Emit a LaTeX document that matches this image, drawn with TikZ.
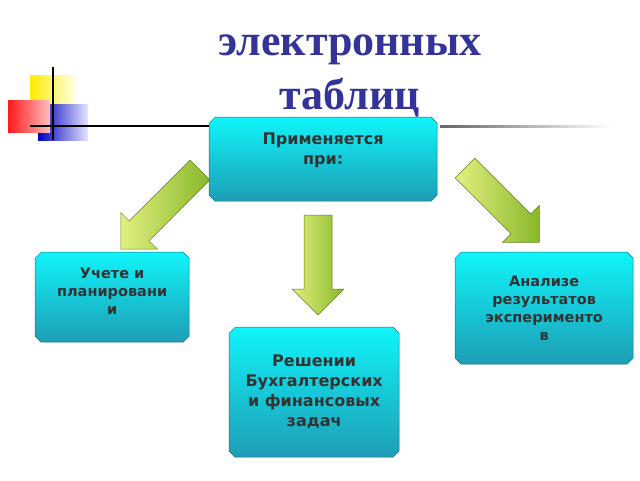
\documentclass[tikz,border=0pt]{standalone}
\usepackage{fontspec}
\setmainfont{Liberation Serif}
\newfontfamily\boxfont{DejaVu Sans}
\usetikzlibrary{shapes.misc}
\definecolor{ttl}{HTML}{333399}
\definecolor{cyA}{HTML}{10F4FA}
\definecolor{cyB}{HTML}{1E9DB5}
\definecolor{grA}{HTML}{E0F080}
\definecolor{grB}{HTML}{8AB82A}
\tikzset{
  box/.style={chamfered rectangle, chamfered rectangle xsep=3pt, chamfered rectangle ysep=3pt,
    top color=cyA, bottom color=cyB, draw=cyB!70!black, line width=0.4pt,
    font=\boxfont\bfseries\fontsize{16pt}{20pt}\selectfont, text=black!80,
    align=center, inner sep=3pt},
  garrow/.style={draw=grB!70!black, line width=0.5pt, left color=grA, right color=grB}
}
\newcommand{\greenarrow}[4]{% x,y,angle,length
  \draw[garrow, shift={(#1,#2)}, rotate=#3]
    (0,-14) -- ({#4-26},-14) -- ({#4-26},-26) -- (#4,0) -- ({#4-26},26) -- ({#4-26},14) -- (0,14) -- cycle;}
\begin{document}
\begin{tikzpicture}[x=1pt,y=-1pt]
\useasboundingbox (0,0) rectangle (640,480);
% decor
\shade[left color=yellow!85!orange, right color=yellow!10] (30,75) rectangle (76,118);
\shade[left color=blue!75!black, right color=blue!10] (38,104) rectangle (88,140);
\shade[left color=red!90, right color=red!25] (8,100) rectangle (50,132);
\draw[line width=1.5pt] (53,67) -- (53,140);
\draw[line width=1.5pt] (30,126) -- (220,126);
\shade[left color=black!60, right color=white] (440,125) rectangle (612,127.5);
% title
\node[text=ttl, font=\bfseries\fontsize{44pt}{54pt}\selectfont, align=center] (title) at (350,76) {электронных\\таблиц};
% arrows
\greenarrow{200}{170}{-135}{112}
\greenarrow{318}{215}{-90}{100}
\greenarrow{465}{168}{-45}{105}
% boxes
\node[box, minimum width=228pt, minimum height=84pt, anchor=north west, text depth=20pt] (top) at (212,120) {Применяется\\при:};
\node[box, minimum width=154pt, minimum height=90pt, anchor=north west, font=\boxfont\bfseries\fontsize{14.5pt}{18pt}\selectfont, text depth=12pt] (left) at (38,255) {Учете и\\планировани\\и};
\node[box, minimum width=178pt, minimum height=112pt, anchor=north west, font=\boxfont\bfseries\fontsize{14.5pt}{18pt}\selectfont] (right) at (458,255) {Анализе\\результатов\\эксперименто\\в};
\node[box, minimum width=170pt, minimum height=130pt, anchor=north west] (bottom) at (232,330) {Решении\\Бухгалтерских\\и финансовых\\задач};
\end{tikzpicture}
\end{document}
